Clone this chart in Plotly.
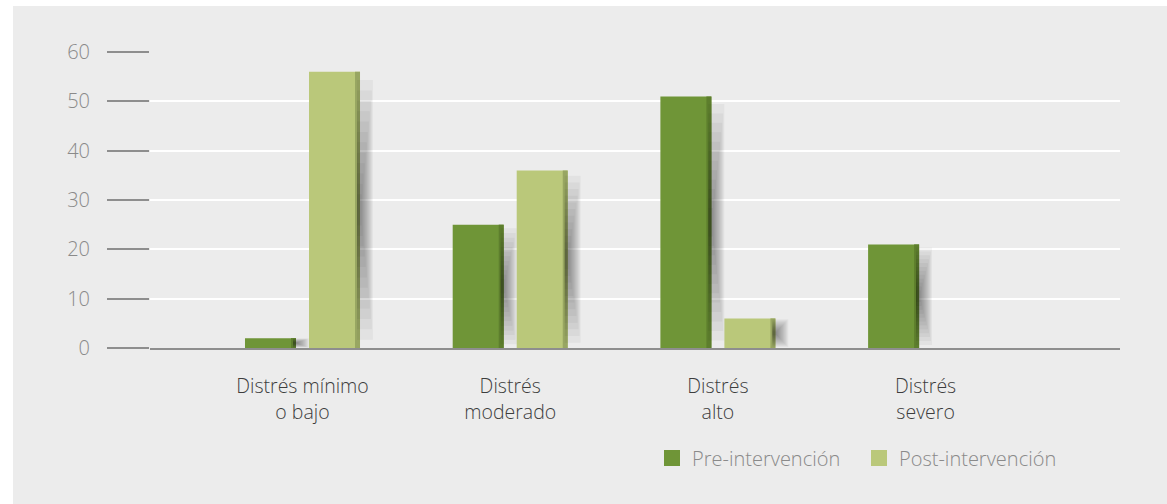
import plotly.graph_objects as go

# Distress levels before and after the intervention (% of participants)
categories = ["Distrés mínimo<br>o bajo", "Distrés<br>moderado", "Distrés<br>alto", "Distrés<br>severo"]
pre_values = [2, 25, 51, 21]
post_values = [56, 36, 6, 0]
series_names = ["Pre-intervención", "Post-intervención"]
y_ticks = [0, 10, 20, 30, 40, 50, 60]

PRE_COLOR = "#6f9537"
POST_COLOR = "#bac87a"
PRE_EDGE = "#5d7e2d"
POST_EDGE = "#98a662"
BG = "#ececec"
FONT = "Open Sans"

x_pos = list(range(len(categories)))

BAR_W = 0.2456
GAP = 0.0626
EDGE_W = 0.024
PRE_OFF = -(BAR_W + GAP / 2)
POST_OFF = GAP / 2

fig = go.Figure()

# main bars
for vals, off, color in [(pre_values, PRE_OFF, PRE_COLOR), (post_values, POST_OFF, POST_COLOR)]:
    fig.add_trace(go.Bar(
        x=x_pos, y=vals, width=BAR_W, offset=off,
        marker=dict(color=color, line=dict(width=0)),
        showlegend=False, hoverinfo="skip",
    ))

# darker bevel strip on the right side of each bar
for vals, off, color in [(pre_values, PRE_OFF, PRE_EDGE), (post_values, POST_OFF, POST_EDGE)]:
    fig.add_trace(go.Bar(
        x=x_pos, y=vals, width=EDGE_W, offset=off + BAR_W - EDGE_W,
        marker=dict(color=color, line=dict(width=0)),
        showlegend=False, hoverinfo="skip",
    ))

# soft drop shadow: many faint layers, densest near the bar's mid-height edge
shadow_scales = [1.0, 0.92, 0.84, 0.76, 0.68, 0.6, 0.52, 0.44, 0.36, 0.28, 0.2, 0.12]
for vals, off in [(pre_values, PRE_OFF), (post_values, POST_OFF)]:
    for s in shadow_scales:
        fig.add_trace(go.Bar(
            x=x_pos,
            y=[v * 0.94 * s for v in vals],
            base=[v * (0.5 - 0.47 * s) for v in vals],
            width=EDGE_W * 0.6 + 0.062 * s,
            offset=off + BAR_W - EDGE_W * 0.6,
            marker=dict(color="rgba(25,25,25,0.045)", line=dict(width=0)),
            showlegend=False, hoverinfo="skip",
        ))

# legend entries
for name, color in zip(series_names, [PRE_COLOR, POST_COLOR]):
    fig.add_trace(go.Scatter(
        x=[None], y=[None], mode="markers", name=name,
        marker=dict(symbol="square", size=16, color=color),
    ))

fig.update_layout(
    width=1167, height=504,
    margin=dict(l=150, r=47, t=52, b=156),
    paper_bgcolor="white",
    plot_bgcolor="rgba(0,0,0,0)",
    barmode="overlay",
    font=dict(family=FONT, size=20, color="#8c8c8c", weight=300),
    shapes=[dict(
        type="rect", xref="paper", yref="paper", layer="below",
        x0=(13 - 150) / 970, x1=1.1, y0=-0.6, y1=(348 - 6) / 296,
        fillcolor=BG, line=dict(width=0),
    )],
    legend=dict(
        orientation="h", xref="paper", yref="paper",
        x=(652 - 150) / 970, y=(348 - 458) / 296,
        xanchor="left", yanchor="middle",
        font=dict(family=FONT, size=20, color="#8a8a8a", weight=300),
        bgcolor="rgba(0,0,0,0)",
        entrywidth=162,
    ),
    xaxis=dict(
        range=[(150 - 302.5) / 207.7, (1120 - 302.5) / 207.7],
        tickvals=x_pos, ticktext=categories,
        ticks="", showgrid=False,
        showline=True, linecolor="#8e8e8e", linewidth=2,
        tickfont=dict(family=FONT, size=19.5, color="#3d3d3d", weight=300),
        ticklabelstandoff=20,
        zeroline=False, fixedrange=True,
    ),
    yaxis=dict(
        range=[0, 60], tickvals=y_ticks,
        showgrid=True, gridcolor="white", gridwidth=2,
        ticks="outside", ticklen=42, tickcolor="#8e8e8e", tickwidth=1.5,
        tickfont=dict(family=FONT, size=20, color="#8a8a8a", weight=300),
        ticklabelstandoff=13,
        showline=False, zeroline=False, fixedrange=True,
    ),
)

fig.write_html("out.html")
